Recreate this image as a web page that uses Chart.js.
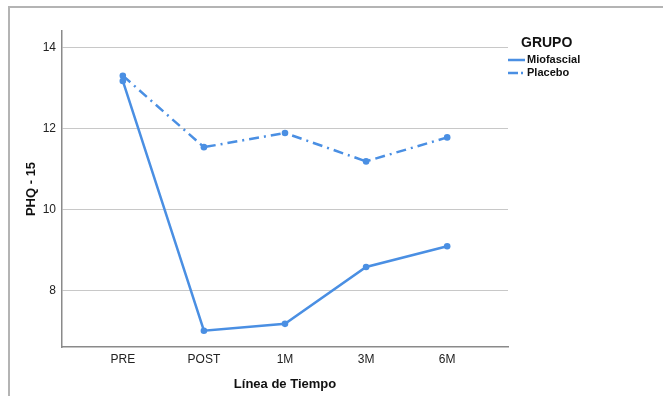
<!DOCTYPE html>
<html>
<head>
<meta charset="utf-8">
<script src="https://cdn.jsdelivr.net/npm/chart.js@4"></script>
<style>
  html, body { margin: 0; padding: 0; background: #fff; }
  #wrap { position: relative; width: 663px; height: 396px; overflow: hidden; }
  #frame { position: absolute; left: 8px; top: 6px; width: 700px; height: 420px;
           border-top: 2px solid #b4b4b4; border-left: 2px solid #b4b4b4; }
  canvas { position: absolute; left: 0; top: 0; }
</style>
</head>
<body>
<div id="wrap">
  <div id="frame"></div>
  <canvas id="chart" width="663" height="396"></canvas>
</div>
<script>
// datos
const timePoints = ['PRE', 'POST', '1M', '3M', '6M'];
const miofascial = [13.17, 7.02, 7.19, 8.59, 9.10];
const placebo = [13.30, 11.54, 11.89, 11.19, 11.78];
const yTicks = [8, 10, 12, 14];
const groupNames = ['Miofascial', 'Placebo'];

const FONT = "'Liberation Sans', Arial, Helvetica, sans-serif";
const BLUE = '#4a8fe3';

function toPoints(values) {
    return values.map((v, i) => ({ x: i, y: v }));
}

// leyenda dibujada a mano a la derecha
const legendPlugin = {
    id: 'grupoLegend',
    afterDraw(chart) {
        const ctx = chart.ctx;
        ctx.save();
        ctx.fillStyle = '#111';
        ctx.textBaseline = 'middle';
        ctx.font = 'bold 14px ' + FONT;
        ctx.fillText('GRUPO', 521, 43);
        ctx.font = 'bold 11px ' + FONT;
        chart.data.datasets.forEach((ds, i) => {
            const y = 60 + i * 13;
            ctx.strokeStyle = ds.borderColor;
            ctx.lineWidth = 2.5;
            ctx.setLineDash(i === 0 ? [] : [10, 3, 2, 3]);
            ctx.beginPath();
            ctx.moveTo(508, y);
            ctx.lineTo(525, y);
            ctx.stroke();
            ctx.setLineDash([]);
            ctx.fillStyle = '#111';
            ctx.fillText(ds.label, 527, y);
        });
        ctx.restore();
    }
};

new Chart(document.getElementById('chart').getContext('2d'), {
    type: 'line',
    data: {
        datasets: [
            {
                label: groupNames[0],
                data: toPoints(miofascial),
                borderColor: BLUE,
                backgroundColor: BLUE,
                borderWidth: 2.5,
                pointRadius: 3.3,
                pointBorderWidth: 0,
                tension: 0
            },
            {
                label: groupNames[1],
                data: toPoints(placebo),
                borderColor: BLUE,
                backgroundColor: BLUE,
                borderWidth: 2.5,
                borderDash: [10, 5, 2, 5],
                pointRadius: 3.3,
                pointBorderWidth: 0,
                tension: 0
            }
        ]
    },
    options: {
        responsive: false,
        animation: false,
        layout: { padding: { left: 12, top: 31, right: 155, bottom: 0 } },
        plugins: {
            legend: { display: false },
            tooltip: { enabled: false }
        },
        scales: {
            x: {
                type: 'linear',
                min: -0.75,
                max: 4.75,
                afterBuildTicks(scale) {
                    scale.ticks = timePoints.map((t, i) => ({ value: i }));
                },
                afterFit(scale) { scale.height = 49; },
                ticks: {
                    color: '#222',
                    font: { family: FONT, size: 12 },
                    padding: 5,
                    callback: (v) => timePoints[v]
                },
                grid: { display: false, drawTicks: false },
                border: { color: '#8a8a8a', width: 1.5 },
                title: {
                    display: true,
                    text: 'Línea de Tiempo',
                    color: '#111',
                    font: { family: FONT, size: 13, weight: 'bold' },
                    padding: { top: 8 }
                }
            },
            y: {
                min: 6.62,
                max: 14.4,
                afterBuildTicks(scale) {
                    scale.ticks = yTicks.map(v => ({ value: v }));
                },
                afterFit(scale) { scale.width = 50; },
                ticks: {
                    color: '#222',
                    font: { family: FONT, size: 12 },
                    padding: 6
                },
                grid: { color: '#c8c8c8', lineWidth: 1, drawTicks: false },
                border: { color: '#8a8a8a', width: 1.5 },
                title: {
                    display: true,
                    text: 'PHQ - 15',
                    color: '#111',
                    font: { family: FONT, size: 13, weight: 'bold' },
                    padding: { top: 12 }
                }
            }
        }
    },
    plugins: [legendPlugin]
});
</script>
</body>
</html>
